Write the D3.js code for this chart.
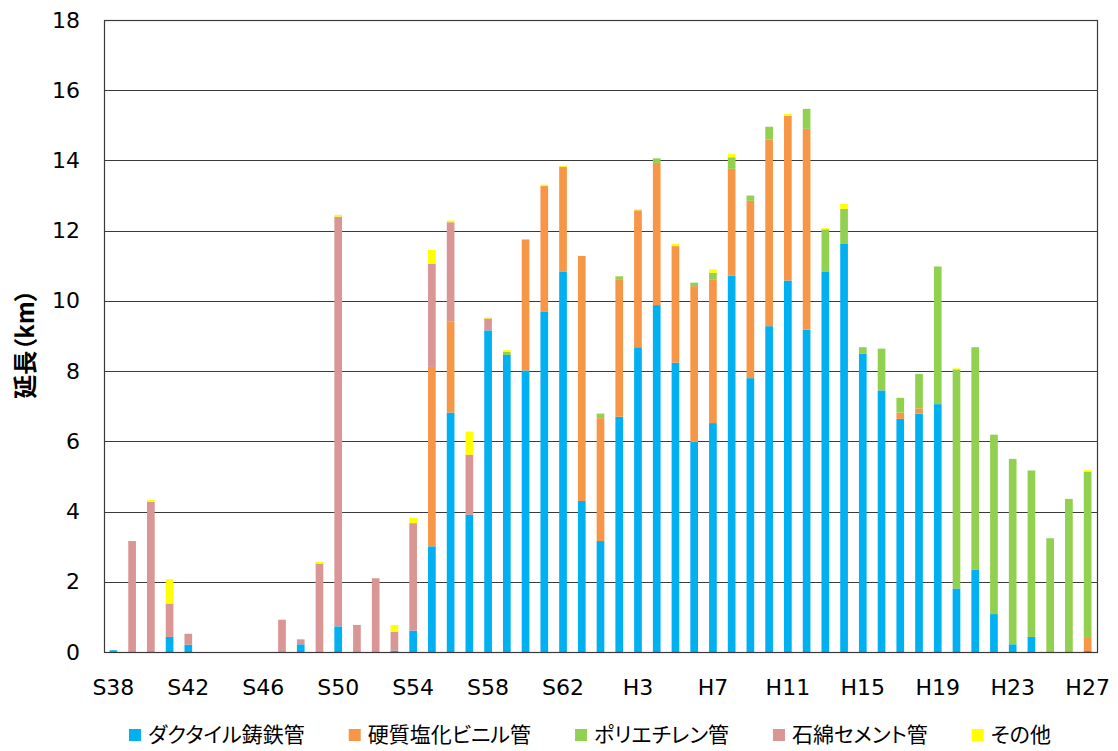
<!DOCTYPE html>
<html lang="ja">
<head>
<meta charset="utf-8">
<script src="https://cdn.jsdelivr.net/npm/d3@7"></script>
<style>
  html, body { margin: 0; padding: 0; background: #fff; }
  svg { display: block; }
  .tick text { font-family: "DejaVu Sans", Verdana, sans-serif; font-size: 22px; fill: #000; }
  .legend text, .ytitle { font-family: "Noto Sans CJK JP", sans-serif; font-feature-settings: "palt"; }
</style>
</head>
<body>
<svg id="chart" width="1118" height="751"></svg>
<script>
// 年度（昭和38年度〜平成27年度）
const years = [
  "S38","S39","S40","S41","S42","S43","S44","S45","S46","S47","S48","S49","S50",
  "S51","S52","S53","S54","S55","S56","S57","S58","S59","S60","S61","S62","S63",
  "H1","H2","H3","H4","H5","H6","H7","H8","H9","H10","H11","H12","H13","H14",
  "H15","H16","H17","H18","H19","H20","H21","H22","H23","H24","H25","H26","H27"
];

// 管種別の布設延長（km）
const ductile = [
  0.05,0,0,0.43,0.21,0,0,0,0,0,0.22,0,0.73,
  0,0,0.04,0.61,3.01,6.82,3.91,9.16,8.46,8.02,9.70,10.84,4.30,
  3.16,6.70,8.68,9.88,8.24,5.98,6.52,10.72,7.80,9.28,10.58,9.18,10.84,11.62,
  8.50,7.45,6.64,6.79,7.06,1.81,2.35,1.08,0.22,0.43,0,0,0.03
];
const pvc = [
  0,0,0,0,0,0,0,0,0,0,0,0,0,
  0,0,0,0,5.11,2.60,0,0,0,3.73,3.57,2.98,6.98,
  3.50,3.90,3.90,4.05,3.32,4.44,4.08,3.04,5.05,5.31,4.69,5.72,0,0,
  0,0,0.18,0.15,0,0,0,0,0,0,0,0,0.37
];
const polyethylene = [
  0,0,0,0,0,0,0,0,0,0,0,0,0,
  0,0,0,0,0,0,0,0,0.09,0,0,0,0,
  0.13,0.10,0,0.13,0,0.10,0.20,0.33,0.15,0.37,0,0.57,1.20,1.00,
  0.18,1.19,0.42,0.98,3.92,6.24,6.33,5.11,5.28,4.74,3.24,4.36,4.74
];
const asbestos = [
  0,3.16,4.28,0.95,0.31,0,0,0,0,0.92,0.14,2.52,11.67,
  0.77,2.10,0.54,3.06,2.94,2.82,1.71,0.34,0,0,0,0,0,
  0,0,0,0,0,0,0,0,0,0,0,0,0,0,
  0,0,0,0,0,0,0,0,0,0,0,0,0
];
const other = [
  0,0,0.05,0.69,0,0,0,0,0,0,0,0.05,0.05,
  0,0,0.19,0.15,0.39,0.05,0.66,0.03,0.05,0,0.04,0.03,0,
  0,0,0.03,0,0.07,0,0.10,0.09,0,0,0.06,0,0.03,0.14,
  0,0,0,0,0,0.03,0,0,0,0,0,0,0.04
];

const seriesNames = ["ダクタイル鋳鉄管", "硬質塩化ビニル管", "ポリエチレン管", "石綿セメント管", "その他"];
const seriesValues = [ductile, pvc, polyethylene, asbestos, other];
const seriesColors = ["#00B0F0", "#F79646", "#92D050", "#D99694", "#FFFF00"];

const yTicks = [0, 2, 4, 6, 8, 10, 12, 14, 16, 18];
const axisTitle = "延長（km）";

// 積み上げ用の表を組み立てる
const keys = seriesNames;
const rows = years.map((y, i) => {
  const r = { year: y };
  keys.forEach((k, j) => { r[k] = seriesValues[j][i]; });
  return r;
});

const svg = d3.select("#chart");
const margin = { left: 104, right: 21, top: 20, bottom: 99 };
const W = 1118, H = 751;
const plotW = W - margin.left - margin.right;
const plotH = H - margin.top - margin.bottom;

const x = d3.scaleBand()
  .domain(years)
  .range([0, plotW])
  .paddingInner(0.59)
  .paddingOuter(0.295);

const y = d3.scaleLinear().domain([0, 18]).range([plotH, 0]);
const color = d3.scaleOrdinal().domain(keys).range(seriesColors);

const g = svg.append("g").attr("transform", `translate(${margin.left},${margin.top})`);

// 目盛線
g.append("g")
  .selectAll("line")
  .data(yTicks)
  .join("line")
  .attr("x1", 0).attr("x2", plotW)
  .attr("y1", d => Math.round(y(d)) + 0.5)
  .attr("y2", d => Math.round(y(d)) + 0.5)
  .attr("stroke", "#3a3a3a")
  .attr("stroke-width", 1.2);

// 積み上げ棒
const stacked = d3.stack().keys(keys)(rows);
g.append("g")
  .selectAll("g")
  .data(stacked)
  .join("g")
  .attr("fill", d => color(d.key))
  .selectAll("rect")
  .data(d => d)
  .join("rect")
  .attr("x", d => x(d.data.year))
  .attr("width", x.bandwidth())
  .attr("y", d => y(d[1]))
  .attr("height", d => Math.max(0, y(d[0]) - y(d[1])));

// 枠線
g.append("rect")
  .attr("x", 0.5).attr("y", 0.5)
  .attr("width", plotW).attr("height", plotH)
  .attr("fill", "none")
  .attr("stroke", "#3a3a3a")
  .attr("stroke-width", 1.2);

// Y軸
const yAxis = d3.axisLeft(y).tickValues(yTicks).tickSize(0).tickPadding(24);
g.append("g").call(yAxis).call(s => s.select(".domain").remove());

// X軸（4年ごとにラベル表示）
const xAxis = d3.axisBottom(x)
  .tickValues(years.filter((d, i) => i % 4 === 0))
  .tickSize(0)
  .tickPadding(27);
g.append("g")
  .attr("transform", `translate(0,${plotH})`)
  .call(xAxis)
  .call(s => s.select(".domain").remove());

// Y軸タイトル
svg.append("text")
  .attr("class", "ytitle")
  .attr("transform", `translate(23,344) rotate(-90)`)
  .attr("text-anchor", "middle")
  .attr("dominant-baseline", "central")
  .attr("font-size", 24)
  .attr("font-weight", "bold")
  .text(axisTitle);

// 凡例
const legend = svg.append("g").attr("class", "legend");
const items = legend.selectAll("g")
  .data(keys)
  .join("g");
items.append("rect")
  .attr("width", 12).attr("height", 12)
  .attr("y", -6)
  .attr("fill", d => color(d));
items.append("text")
  .attr("x", 19)
  .attr("y", 7)
  .attr("font-size", 21)
  .attr("fill", "#000")
  .text(d => d);

let cursor = 0;
items.each(function () {
  const t = d3.select(this).select("text").node();
  const w = 19 + t.getComputedTextLength();
  d3.select(this).attr("transform", `translate(${cursor},0)`);
  cursor += w + 44;
});
legend.attr("transform", "translate(129,735)");
</script>
</body>
</html>
